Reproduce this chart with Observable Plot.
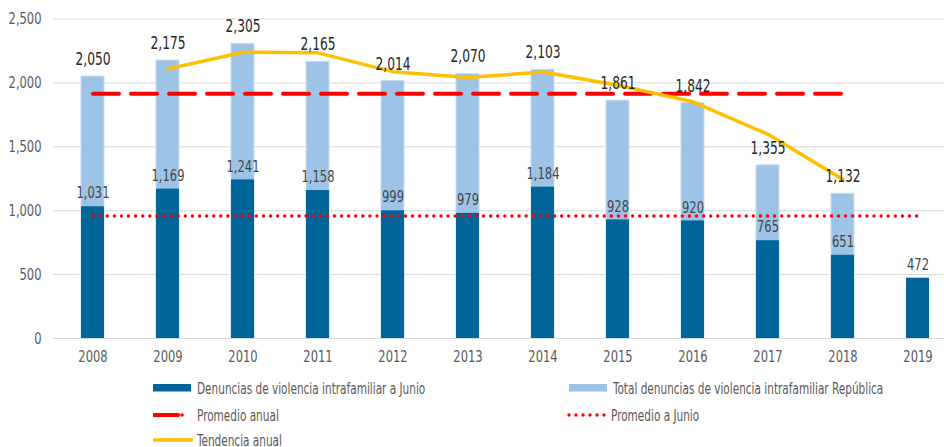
<!DOCTYPE html>
<html>
<head>
<meta charset="utf-8">
<script src="https://cdn.jsdelivr.net/npm/d3@7"></script>
<script src="https://cdn.jsdelivr.net/npm/@observablehq/plot@0.6"></script>
<style>
  html, body { margin: 0; padding: 0; background: #fff; }
  body { width: 944px; height: 447px; overflow: hidden; font-family: "DejaVu Sans", sans-serif; font-stretch: condensed; }
  svg text { font-stretch: condensed; }
  #legend { position: relative; height: 75px; color: #595959; font-size: 16px; }
  .item { position: absolute; display: flex; align-items: center; white-space: nowrap; }
  .item svg { margin-right: 4px; flex: none; }
  .item span { display: inline-block; transform: scaleX(0.73); transform-origin: left center; }
</style>
</head>
<body>
<div id="chart"></div>
<div id="legend"></div>
<script>
const years = ["2008","2009","2010","2011","2012","2013","2014","2015","2016","2017","2018","2019"];
const totalRepublica = [2050, 2175, 2305, 2165, 2014, 2070, 2103, 1861, 1842, 1355, 1132, null];
const denunciasJunio = [1031, 1169, 1241, 1158, 999, 979, 1184, 928, 920, 765, 651, 472];
const tendenciaYears = ["2009","2010","2011","2012","2013","2014","2015","2016","2017","2018"];
const tendenciaAnual = [2110, 2240, 2235, 2088, 2042, 2086, 1982, 1852, 1598, 1244];
const promedioAnual = 1916;
const promedioAnualYears = ["2008", "2018"];
const promedioJunio = 958;
const promedioJunioYears = ["2008", "2019"];
const yTicks = [0, 500, 1000, 1500, 2000, 2500];

const C_DARK = "#006699", C_LIGHT = "#9DC3E6", C_RED = "#FF0000", C_YEL = "#FFC000";

const totals = years.map((y, i) => ({year: y, value: totalRepublica[i]})).filter(d => d.value != null);
const junio = years.map((y, i) => ({year: y, value: denunciasJunio[i]}));
const trend = tendenciaYears.map((y, i) => ({year: y, value: tendenciaAnual[i]}));
const avgA = promedioAnualYears.map(y => ({year: y, value: promedioAnual}));
const avgJ = promedioJunioYears.map(y => ({year: y, value: promedioJunio}));
const fmt = d3.format(",");

const chart = Plot.plot({
  width: 944,
  height: 372,
  marginTop: 18.5,
  marginBottom: 34,
  marginLeft: 53,
  marginRight: 0,
  style: {fontFamily: '"DejaVu Sans", sans-serif', fontStretch: "condensed", fontSize: "16px", color: "#595959", background: "#fff"},
  x: {type: "band", domain: years, range: [52.8, 956.8], paddingInner: 0.69, paddingOuter: 0.345, label: null},
  y: {domain: [0, 2500], label: null},
  marks: [
    Plot.gridY(yTicks, {stroke: "#d9d9d9", strokeOpacity: 1, strokeWidth: 1}),
    Plot.axisY(yTicks, {tickSize: 0, tickPadding: 12, tickFormat: fmt, fontSize: 16, fill: "#595959", label: null}),
    Plot.axisX({tickSize: 0, tickPadding: 12, fontSize: 16, fill: "#595959", label: null}),
    Plot.barY(totals, {x: "year", y: "value", fill: C_LIGHT, stroke: "#c9ddf0", strokeWidth: 1}),
    Plot.barY(junio, {x: "year", y: "value", fill: C_DARK}),
    Plot.line(avgJ, {x: "year", y: "value", stroke: C_RED, strokeWidth: 3.4, strokeDasharray: "0,7.1", strokeLinecap: "round"}),
    Plot.line(avgA, {x: "year", y: "value", stroke: C_RED, strokeWidth: 4, strokeDasharray: "26,12"}),
    Plot.line(trend, {x: "year", y: "value", stroke: C_YEL, strokeWidth: 3.5, strokeLinejoin: "round"}),
    Plot.text(totals, {x: "year", y: "value", text: d => fmt(d.value), dy: -17, fill: "#262626", fontSize: 17}),
    Plot.text(junio, {x: "year", y: "value", text: d => fmt(d.value), dy: -13.5, fill: "#454545", fontSize: 16})
  ]
});
document.getElementById("chart").appendChild(chart);

// narrow the glyphs around each text's own anchor to mimic the condensed face of the original
d3.select(chart).selectAll("text").each(function() {
  const t = this.getAttribute("transform") || "";
  this.setAttribute("transform", (t + " scale(0.8,1)").trim());
});

const legendItems = [
  {label: "Denuncias de violencia intrafamiliar a Junio", x: 153, y: 16, sw: `<rect x="0" y="6" width="38" height="7.5" fill="${C_DARK}"/>`},
  {label: "Total denuncias de violencia intrafamiliar República", x: 569, y: 16, sw: `<rect x="0" y="6" width="38" height="7.5" fill="${C_LIGHT}"/>`},
  {label: "Promedio anual", x: 153, y: 43, sw: `<line x1="1" y1="10" x2="25" y2="10" stroke="${C_RED}" stroke-width="4" stroke-linecap="round"/><circle cx="29" cy="10" r="1.8" fill="${C_RED}"/>`},
  {label: "Promedio a Junio", x: 567, y: 43, sw: [0,1,2,3,4,5].map(i => `<circle cx="${2 + i*7}" cy="10" r="1.7" fill="${C_RED}"/>`).join("")},
  {label: "Tendencia anual", x: 153, y: 68, sw: `<line x1="1" y1="10" x2="39" y2="10" stroke="${C_YEL}" stroke-width="3.5" stroke-linecap="round"/>`}
];
const lg = document.getElementById("legend");
for (const it of legendItems) {
  const div = document.createElement("div");
  div.className = "item";
  div.style.left = it.x + "px";
  div.style.top = (it.y - 10) + "px";
  div.innerHTML = `<svg width="40" height="20">${it.sw}</svg><span>${it.label}</span>`;
  lg.appendChild(div);
}
</script>
</body>
</html>
